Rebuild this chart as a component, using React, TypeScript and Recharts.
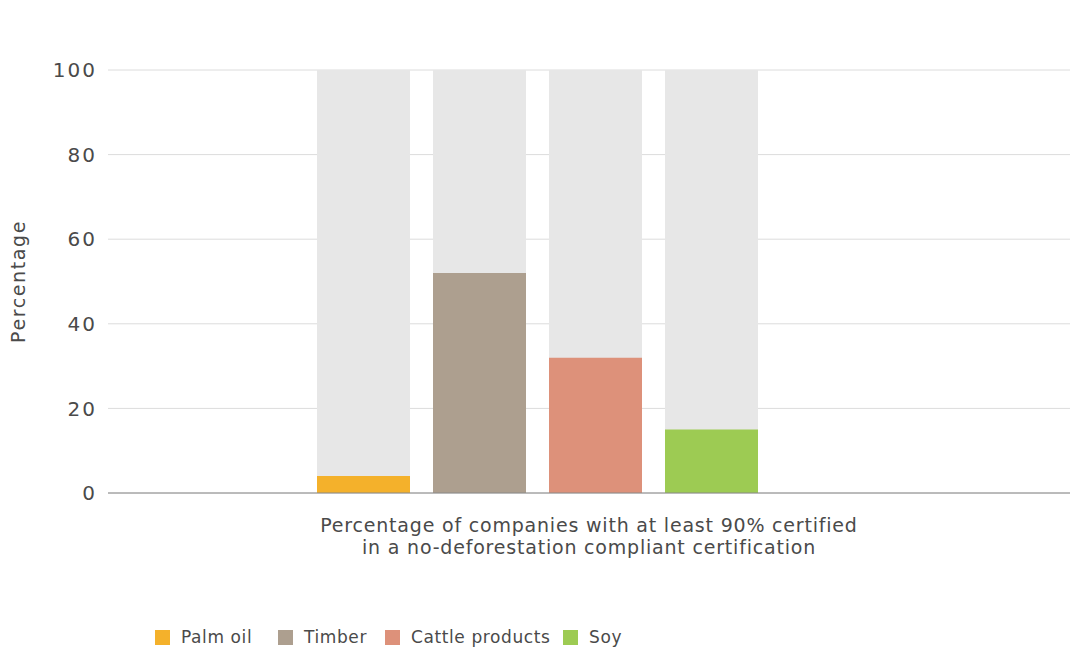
import { BarChart, Bar, XAxis, YAxis, CartesianGrid } from 'recharts';

// share of companies with >= 90% certified volume, by commodity
const commodities = ['Palm oil', 'Timber', 'Cattle products', 'Soy'];
const keys = ['palm', 'timber', 'cattle', 'soy'];
const values = [4, 52, 32, 15];
const colors = ['#F4B12B', '#AD9F8F', '#DD917A', '#9DCB53'];
const yTicks = [0, 20, 40, 60, 80, 100];
const category = 'Percentage of companies with at least 90% certified';
const categoryLine2 = 'in a no-deforestation compliant certification';

// left edge of each legend entry
const legendX = [155, 278, 385, 563];

const row: Record<string, string | number> = { name: category };
keys.forEach((k, i) => {
  row[k] = values[i];
});
const data = [row];

const FONT = '"DejaVu Sans", sans-serif';
const TEXT = '#4a4a4a';

function AxisCaption(props: any) {
  const { viewBox } = props;
  const cx = viewBox.x + viewBox.width / 2;
  return (
    <text
      x={cx}
      y={viewBox.y + 39}
      textAnchor="middle"
      fill={TEXT}
      fontSize={19}
      fontFamily={FONT}
      style={{ letterSpacing: 0.8 }}
    >
      <tspan x={cx}>{category}</tspan>
      <tspan x={cx} dy={22}>{categoryLine2}</tspan>
    </text>
  );
}

function LegendRow() {
  return (
    <div style={{ position: 'absolute', left: 0, top: 627, fontFamily: FONT, fontSize: 17, letterSpacing: 0.6, color: TEXT }}>
      {commodities.map((c, i) => (
        <div key={c} style={{ position: 'absolute', left: legendX[i], top: 0, display: 'flex', alignItems: 'center', whiteSpace: 'nowrap' }}>
          <span style={{ width: 15, height: 15, background: colors[i], display: 'inline-block', marginRight: 11 }} />
          <span>{c}</span>
        </div>
      ))}
    </div>
  );
}

export default function App() {
  return (
    <div style={{ position: 'absolute', left: 0, top: 0, width: 1070, height: 650, background: '#fff' }}>
      <BarChart width={1070} height={650} data={data} margin={{ top: 70, right: 0, bottom: 77, left: 0 }} barGap={23}>
        <CartesianGrid vertical={false} stroke="#dcdcdc" />
        <XAxis
          dataKey="name"
          tick={false}
          tickLine={false}
          axisLine={{ stroke: '#888' }}
          padding={{ left: 0, right: 104 }}
          height={80}
          label={<AxisCaption />}
        />
        <YAxis
          type="number"
          domain={[0, 100]}
          ticks={yTicks}
          width={108}
          axisLine={false}
          tickLine={false}
          tickMargin={5}
          tick={{ fill: TEXT, fontSize: 20, fontFamily: FONT, style: { letterSpacing: 2 } }}
          label={{
            value: 'Percentage',
            angle: -90,
            position: 'insideLeft',
            offset: 18,
            style: { fill: TEXT, fontSize: 19, fontFamily: FONT, textAnchor: 'middle', letterSpacing: 1.6 },
          }}
        />
        {keys.map((k, i) => (
          <Bar
            key={k}
            dataKey={k}
            name={commodities[i]}
            fill={colors[i]}
            barSize={93}
            background={{ fill: '#e7e7e7' }}
            isAnimationActive={false}
          />
        ))}
      </BarChart>
      <LegendRow />
    </div>
  );
}
